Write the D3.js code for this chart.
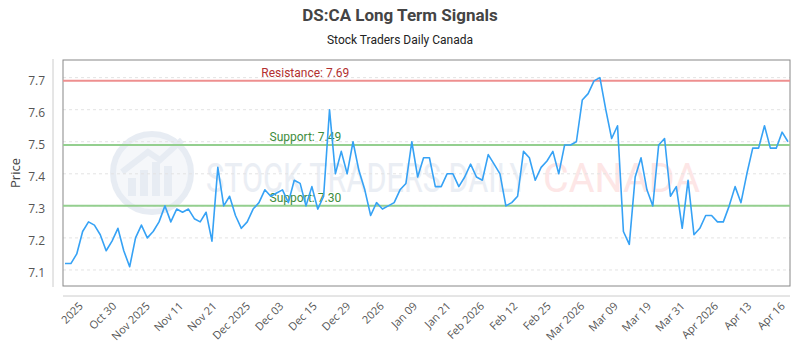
<!DOCTYPE html>
<html>
<head>
<meta charset="utf-8">
<script src="https://cdn.jsdelivr.net/npm/d3@7"></script>
<style>
    body { margin: 0; background: #fff; }
    svg { display: block; }
</style>
</head>
<body>
<svg id="chart"></svg>
<script>
const width = 800;
const height = 350;
const plotLeft = 63;
const plotRight = 790;
const plotTop = 60;
const plotBottom = 286;

// closing prices, one per trading day
const prices = [
    7.12, 7.12, 7.15, 7.22, 7.25, 7.24, 7.21, 7.16, 7.19, 7.23,
    7.16, 7.11, 7.20, 7.24, 7.20, 7.22, 7.25, 7.30, 7.25, 7.29,
    7.28, 7.29, 7.26, 7.25, 7.28, 7.19, 7.42, 7.30, 7.33, 7.27,
    7.23, 7.25, 7.29, 7.31, 7.35, 7.33, 7.34, 7.35, 7.31, 7.38,
    7.37, 7.30, 7.36, 7.29, 7.33, 7.60, 7.40, 7.47, 7.40, 7.50,
    7.41, 7.35, 7.27, 7.31, 7.29, 7.30, 7.31, 7.35, 7.37, 7.50,
    7.39, 7.45, 7.45, 7.36, 7.36, 7.40, 7.40, 7.36, 7.39, 7.43,
    7.39, 7.38, 7.46, 7.43, 7.40, 7.30, 7.31, 7.33, 7.47, 7.45,
    7.38, 7.42, 7.44, 7.47, 7.40, 7.49, 7.49, 7.50, 7.63, 7.65,
    7.69, 7.70, 7.60, 7.51, 7.55, 7.22, 7.18, 7.39, 7.45, 7.35,
    7.30, 7.49, 7.51, 7.33, 7.36, 7.23, 7.38, 7.21, 7.23, 7.27,
    7.27, 7.25, 7.25, 7.30, 7.36, 7.31, 7.40, 7.48, 7.48, 7.55,
    7.48, 7.48, 7.53, 7.50
];

const tickLabels = ['2025', 'Oct 30', 'Nov 2025', 'Nov 11', 'Nov 21', 'Dec 2025', 'Dec 03',
    'Dec 15', 'Dec 29', '2026', 'Jan 09', 'Jan 21', 'Feb 2026', 'Feb 12', 'Feb 25',
    'Mar 2026', 'Mar 09', 'Mar 19', 'Mar 31', 'Apr 2026', 'Apr 13', 'Apr 16'];

const yTicks = [7.1, 7.2, 7.3, 7.4, 7.5, 7.6, 7.7];

const levelNames = ['Resistance', 'Support', 'Support'];
const levelValues = [7.69, 7.49, 7.30];
const levelColors = ['#ee8f8f', '#94cf8f', '#94cf8f'];
const levelTextColors = ['#b22f2f', '#3d8c3d', '#3d8c3d'];

const svg = d3.select('#chart')
    .attr('width', width)
    .attr('height', height)
    .style('font-family', 'Roboto, sans-serif');

const x = d3.scaleLinear().domain([0, prices.length - 1]).range([plotLeft + 2, plotRight - 2]);
const y = d3.scaleLinear().domain([7.05, 7.755]).range([plotBottom, plotTop]);
const xLabel = d3.scalePoint().domain(tickLabels).range([plotLeft + 18, plotRight - 7]);

// title
svg.append('text')
    .attr('x', width / 2).attr('y', 21)
    .attr('text-anchor', 'middle')
    .style('font-size', '17px').style('font-weight', 'bold')
    .style('fill', '#444')
    .text('DS:CA Long Term Signals');

svg.append('text')
    .attr('x', width / 2).attr('y', 44)
    .attr('text-anchor', 'middle')
    .style('font-size', '12px')
    .style('fill', '#222')
    .text('Stock Traders Daily Canada');

// watermark
const wm = svg.append('g').style('opacity', 0.8);
wm.append('circle')
    .attr('cx', 152).attr('cy', 173).attr('r', 39)
    .attr('fill', '#f3f6fa').attr('stroke', '#e2e8f1').attr('stroke-width', 6);
const bars = [[128, 18], [140, 26], [152, 34], [164, 30]];
wm.selectAll('rect.wm').data(bars).enter().append('rect')
    .attr('class', 'wm')
    .attr('x', d => d[0]).attr('y', d => 196 - d[1])
    .attr('width', 8).attr('height', d => d[1])
    .attr('fill', '#e2e8f1');
wm.append('path')
    .attr('d', 'M122,172 L148,152 L160,160 L182,140')
    .attr('fill', 'none').attr('stroke', '#e2e8f1').attr('stroke-width', 6);
wm.append('text')
    .attr('x', 206).attr('y', 192)
    .attr('textLength', 322).attr('lengthAdjust', 'spacingAndGlyphs')
    .style('font-size', '40px').style('font-weight', 400)
    .style('fill', '#e6eaf2')
    .text('STOCK TRADERS DAILY');
wm.append('text')
    .attr('x', 543).attr('y', 192)
    .attr('textLength', 157).attr('lengthAdjust', 'spacingAndGlyphs')
    .style('font-size', '40px').style('font-weight', 400)
    .style('fill', '#fde0e0')
    .text('CANADA');

// grid
svg.append('g')
    .selectAll('line').data(yTicks).enter().append('line')
    .attr('x1', plotLeft).attr('x2', plotRight)
    .attr('y1', d => y(d)).attr('y2', d => y(d))
    .attr('stroke', '#e3e3e3').attr('stroke-dasharray', '3,3');

// plot frame
svg.append('rect')
    .attr('x', plotLeft).attr('y', plotTop)
    .attr('width', plotRight - plotLeft).attr('height', plotBottom - plotTop)
    .attr('fill', 'none').attr('stroke', '#888');

// y axis
const yAxis = svg.append('g').attr('transform', `translate(53, 0)`)
    .call(d3.axisLeft(y).tickValues(yTicks).tickFormat(d3.format('.1f')).tickSize(0).tickPadding(8));
yAxis.select('.domain').attr('d', `M0,${plotTop - 1}V${plotBottom + 1}`).attr('stroke', '#ccc');
yAxis.selectAll('text')
    .attr('dy', '0.55em')
    .style('font-family', '"Open Sans", sans-serif')
    .style('font-size', '12px').style('fill', '#555');

svg.append('text')
    .attr('transform', `translate(20, ${(plotTop + plotBottom) / 2}) rotate(-90)`)
    .attr('text-anchor', 'middle')
    .style('font-family', '"Open Sans", sans-serif')
    .style('font-size', '13px').style('fill', '#444')
    .text('Price');

// x axis
svg.append('line')
    .attr('x1', plotLeft).attr('x2', plotRight)
    .attr('y1', 296).attr('y2', 296)
    .attr('stroke', '#ccc');

svg.append('g')
    .selectAll('text').data(tickLabels).enter().append('text')
    .attr('transform', d => `translate(${xLabel(d)}, 304) rotate(-45)`)
    .attr('text-anchor', 'end')
    .attr('dy', '0.35em')
    .style('font-family', '"Open Sans", sans-serif')
    .style('font-size', '11px').style('fill', '#555')
    .text(d => d);

// support / resistance
const levels = svg.append('g');
levelValues.forEach((v, i) => {
    levels.append('line')
        .attr('x1', plotLeft).attr('x2', plotRight)
        .attr('y1', y(v)).attr('y2', y(v))
        .attr('stroke', levelColors[i]).attr('stroke-width', 2);
    levels.append('text')
        .attr('x', plotLeft + (plotRight - plotLeft) / 3).attr('y', y(v) - 4)
        .attr('text-anchor', 'middle')
        .style('font-size', '12px').style('fill', levelTextColors[i])
        .text(`${levelNames[i]}: ${v.toFixed(2)}`);
});

// price line
svg.append('path')
    .datum(prices)
    .attr('fill', 'none')
    .attr('stroke', '#36a2f5')
    .attr('stroke-width', 1.6)
    .attr('stroke-linejoin', 'round')
    .attr('d', d3.line()
        .x((d, i) => x(i))
        .y(d => y(d))
    );
</script>
</body>
</html>
